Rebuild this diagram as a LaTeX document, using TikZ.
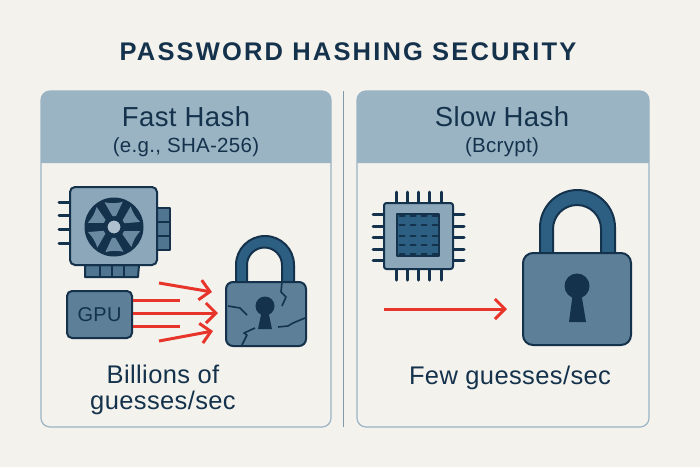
\documentclass[tikz,border=0pt]{standalone}
\usepackage{fontspec}
\setmainfont[LetterSpace=1.5]{Liberation Sans}
\newfontfamily\titlefont[LetterSpace=8.5]{Liberation Sans}
\usetikzlibrary{arrows.meta}
\definecolor{paper}{HTML}{F4F2ED}
\definecolor{headblue}{HTML}{9AB4C3}
\definecolor{ink}{HTML}{14324C}
\definecolor{lockblue}{HTML}{5E7F98}
\definecolor{shackleblue}{HTML}{2D5F82}
\definecolor{cardblue}{HTML}{8CA7B9}
\definecolor{bladeblue}{HTML}{4F7590}
\definecolor{hotred}{HTML}{E8352B}
\begin{document}
\begin{tikzpicture}[x=1pt, y=-1pt,
	panel/.style = {draw=headblue, line width=1.2pt, fill=paper, rounded corners=9pt},
	bodytext/.style = {text=ink, font=\fontsize{25.5}{30}\selectfont, inner sep=0pt, anchor=base},
	headtext/.style = {bodytext, font=\fontsize{27.5}{32}\selectfont},
	subtext/.style = {bodytext, font=\fontsize{20.5}{25}\selectfont},
	part/.style = {draw=ink, line width=2pt, line join=round},
	leadline/.style = {draw=ink, line width=3pt, line cap=round},
	crack/.style = {ink, line width=1.6pt, line join=round},
	attack/.style = {draw=hotred, line width=3pt, -{Straight Barb[length=10pt,width=20pt]}},
	stream/.style = {draw=hotred, line width=3pt}]

	\useasboundingbox[fill=paper] (0,0) rectangle (700,467);

	% title
	\node[text=ink, font=\titlefont\bfseries\fontsize{25.5}{30}\selectfont, inner sep=0pt] (title) at (348,52) {PASSWORD HASHING SECURITY};

	% panels
	\draw[panel] (41,91) rectangle (331,427);
	\draw[panel] (357,91) rectangle (649,427);
	\fill[headblue] (41,163) {[rounded corners=9pt] -- (41,91) -- (331,91)} -- (331,163) -- cycle;
	\fill[headblue] (357,163) {[rounded corners=9pt] -- (357,91) -- (649,91)} -- (649,163) -- cycle;
	\draw[headblue!80!ink, line width=0.9pt] (343,91) -- (343,427);

	\node[headtext] (fasttitle) at (186,126) {Fast Hash};
	\node[subtext] (fastsub) at (186,152.5) {(e.g., SHA-256)};
	\node[headtext] (slowtitle) at (502,126) {Slow Hash};
	\node[subtext] (slowsub) at (502,152.5) {(Bcrypt)};
	\node[bodytext] (billions) at (163,383) {Billions of};
	\node[bodytext] (guesses) at (163,409) {guesses/sec};
	\node[bodytext] (few) at (510,384) {Few guesses/sec};

	% graphics card
	\foreach \y in {202,215,229,243}
		\draw[leadline] (59,\y) -- (70,\y);
	\draw[part, fill=bladeblue] (157,208) rectangle (170,250);
	\draw[part] (157,222) -- (170,222) (157,236) -- (170,236);
	\draw[part, fill=bladeblue] (85,265) -- (139,265) -- (138,277) -- (85,277) -- cycle;
	\foreach \x in {100,112,124}
		\draw[part, line width=1.2pt] (\x,265) -- (\x,277);
	\draw[part, fill=cardblue, rounded corners=5pt] (70,187) rectangle (157,265);
	\fill[ink] (114,227) circle (29.5);
	\begin{scope}[shift={(114,227)}]
		\foreach \a in {-90,-30,30,90,150,210}
			\fill[bladeblue!85!white] (\a-8:11) -- (\a-21:26.5) to[bend right=12] (\a+19:26.5) -- (\a+10:11) -- cycle;
	\end{scope}
	\draw[ink, fill=cardblue!70!white, line width=2pt] (114,227) circle (7.5);

	% gpu chip
	\node[part, fill=lockblue, rounded corners=5pt, minimum width=65pt, minimum height=47pt, text=ink, inner sep=0pt, font=\fontsize{20}{24}\selectfont] (gpu) at (99.5,314.5) {GPU};

	% arrows
	\coordinate (topstart) at (159,283);
	\coordinate (toptip) at (212,292);
	\coordinate (midtip) at (218,313);
	\coordinate (botstart) at (159,341);
	\coordinate (bottip) at (213,331);
	\coordinate (upperend) at (180,300);
	\coordinate (lowerend) at (180,326);
	\draw[attack] (topstart) -- (toptip);
	\draw[attack] (gpu.east |- midtip) -- (midtip);
	\draw[attack] (botstart) -- (bottip);
	\draw[stream] (gpu.east |- upperend) -- (upperend);
	\draw[stream] (gpu.east |- lowerend) -- (lowerend);

	% cracked lock
	\draw[part, fill=shackleblue] (236,283) -- (236,265) arc[start angle=180, end angle=360, radius=29] -- (294,283) -- (282,283) -- (282,265) arc[start angle=360, end angle=180, radius=17.5] -- (247,283) -- cycle;
	\draw[part, fill=lockblue, rounded corners=7pt] (226,282) rectangle (306,346);
	\fill[ink] (265,306) circle (9.5);
	\fill[ink] (262,310) -- (268,310) -- (272,329) -- (258,329) -- cycle;
	\draw[crack] (282,282) -- (281,292) -- (286,297) -- (282,306);
	\draw[crack] (228,306) -- (240,308) -- (247,315);
	\draw[crack] (242,345) -- (247,335) -- (244,333) -- (255,328);
	\draw[crack] (305,318) -- (293,323) -- (288,326) -- (278,327);

	% cpu
	\foreach \x in {396,407,418,429,441}
		\draw[leadline] (\x,192) -- (\x,280);
	\foreach \y in {214,226,237,249,260}
		\draw[leadline] (373,\y) -- (464,\y);
	\draw[part, fill=cardblue, rounded corners=2.5pt] (384,203) rectangle (453,269);
	\draw[part, fill=shackleblue] (397,214) rectangle (439,256);
	\foreach \y in {216,225,236,245,254}
		\foreach \x in {402,413,424,435}
			\draw[ink, line width=2pt, line cap=round] (\x-2.5,\y) -- (\x+2.5,\y);

	% slow arrow
	\coordinate (slowstart) at (384,309);
	\coordinate (slowtip) at (507,309);
	\draw[attack] (slowstart) -- (slowtip);

	% solid lock
	\draw[part, fill=shackleblue] (540,255) -- (540,227.5) arc[start angle=180, end angle=360, radius=37.5] -- (615,255) -- (601,255) -- (601,229) arc[start angle=360, end angle=180, radius=24] -- (553,255) -- cycle;
	\draw[part, fill=lockblue, rounded corners=10pt] (523,253) rectangle (631,345);
	\fill[ink] (577,286) circle (12.5);
	\fill[ink] (573,292) -- (581,292) -- (586,322) -- (569,322) -- cycle;
\end{tikzpicture}
\end{document}
